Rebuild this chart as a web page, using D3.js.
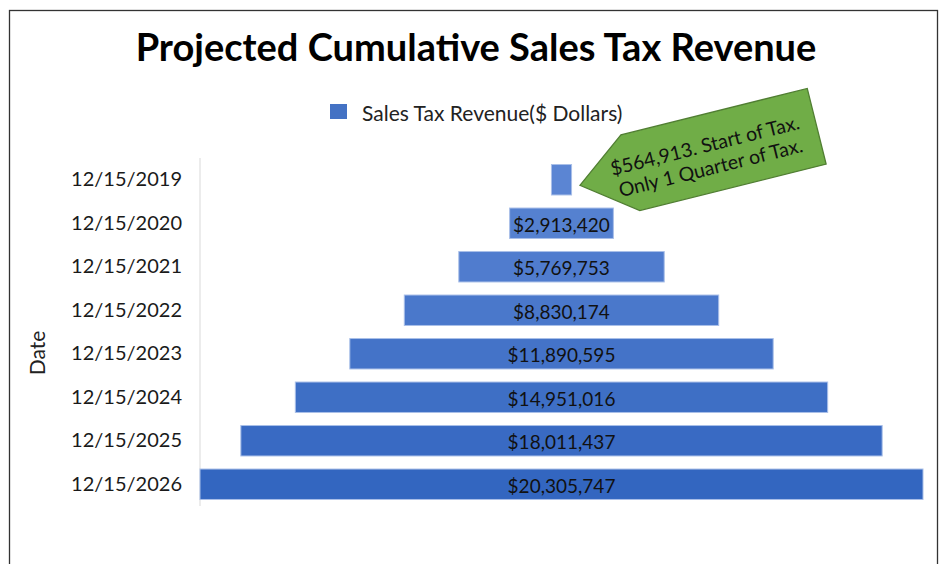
<!DOCTYPE html>
<html>
<head>
<meta charset="utf-8">
<script src="https://cdn.jsdelivr.net/npm/d3@7.9.0/dist/d3.min.js"></script>
<style>
  body { margin: 0; background: #fff; }
  svg { display: block; font-family: Lato, "Open Sans", sans-serif; }
</style>
</head>
<body>
<div id="chart"></div>
<script>
// chart values
const dates = ["12/15/2019", "12/15/2020", "12/15/2021", "12/15/2022",
               "12/15/2023", "12/15/2024", "12/15/2025", "12/15/2026"];
const revenue = [564913, 2913420, 5769753, 8830174, 11890595, 14951016, 18011437, 20305747];
const seriesName = "Sales Tax Revenue($ Dollars)";
const calloutLines = ["$564,913. Start of Tax.", "Only 1 Quarter of Tax."];

const width = 943, height = 564;
const svg = d3.select("#chart").append("svg")
    .attr("width", width)
    .attr("height", height);

// chart frame
svg.append("rect")
    .attr("x", 9.5).attr("y", 10.5)
    .attr("width", 928).attr("height", 600)
    .attr("fill", "none")
    .attr("stroke", "#333")
    .attr("stroke-width", 1.3);

const plot = { left: 200, right: 923, top: 158, bottom: 506 };
const maxVal = d3.max(revenue);

// funnel: bars centred on zero
const x = d3.scaleLinear()
    .domain([-maxVal / 2, maxVal / 2])
    .range([plot.left, plot.right]);

const y = d3.scaleBand()
    .domain(dates)
    .range([plot.top, plot.bottom])
    .paddingInner(0.3)
    .paddingOuter(0.15);

// light to dark blue going down
const shade = d3.scaleLinear()
    .domain([0, dates.length - 1])
    .range(["#5b85d3", "#3366c0"]);

// title
svg.append("text")
    .attr("x", 476).attr("y", 61)
    .attr("text-anchor", "middle")
    .style("font-size", "38px")
    .style("font-weight", "bold")
    .attr("fill", "#000")
    .text("Projected Cumulative Sales Tax Revenue");

// legend
const legend = svg.append("g").attr("transform", "translate(330,104)");
legend.append("rect")
    .attr("width", 17).attr("height", 15)
    .attr("fill", "#4472c4");
legend.append("text")
    .attr("x", 32).attr("y", 8)
    .attr("dominant-baseline", "central")
    .style("font-size", "21px")
    .attr("fill", "#222")
    .text(seriesName);

// y axis
const yAxis = svg.append("g")
    .attr("transform", `translate(${plot.left},0)`)
    .call(d3.axisLeft(y).tickSize(0).tickPadding(18));
yAxis.select(".domain")
    .attr("stroke", "#d9d9d9")
    .attr("d", `M0,${plot.top}V${plot.bottom}`);
yAxis.selectAll("text")
    .style("font-size", "20px")
    .style("font-family", "Lato, sans-serif")
    .attr("fill", "#1a1a1a");

svg.append("text")
    .attr("transform", "translate(45,353) rotate(-90)")
    .attr("text-anchor", "middle")
    .style("font-size", "21px")
    .attr("fill", "#222")
    .text("Date");

// bars
const rows = dates.map((d, i) => ({ date: d, value: revenue[i], i }));
svg.append("g").selectAll("rect")
    .data(rows)
    .join("rect")
    .attr("x", d => x(-d.value / 2))
    .attr("y", d => y(d.date))
    .attr("width", d => x(d.value / 2) - x(-d.value / 2))
    .attr("height", y.bandwidth())
    .attr("fill", d => shade(d.i))
    .attr("stroke", "#a9bfe8")
    .attr("stroke-width", 1);

// labels inside bars (first one is given by the callout)
const fmt = d3.format("$,");
svg.append("g").selectAll("text")
    .data(rows.slice(1))
    .join("text")
    .attr("x", x(0))
    .attr("y", d => y(d.date) + y.bandwidth() / 2 + 1)
    .attr("text-anchor", "middle")
    .attr("dominant-baseline", "central")
    .style("font-size", "19px")
    .attr("fill", "#111")
    .text(d => fmt(d.value));

// green callout pointing at the first bar
const first = rows[0];
const tipX = x(first.value / 2) + 8;
const tipY = y(first.date) + y.bandwidth() / 2 + 4;
const call = svg.append("g")
    .attr("transform", `translate(${tipX + 143},${tipY - 34}) rotate(-14)`);
call.append("path")
    .attr("d", "M-147,0 L-95,-39 L97,-39 L97,39 L-95,39 Z")
    .attr("fill", "#70ad47")
    .attr("stroke", "#507e32")
    .attr("stroke-width", 1.3);
call.selectAll("text")
    .data(calloutLines)
    .join("text")
    .attr("x", -16)
    .attr("y", (d, i) => -9 + i * 23)
    .attr("text-anchor", "middle")
    .attr("dominant-baseline", "central")
    .style("font-size", "19.5px")
    .attr("fill", "#111")
    .text(d => d);
</script>
</body>
</html>
